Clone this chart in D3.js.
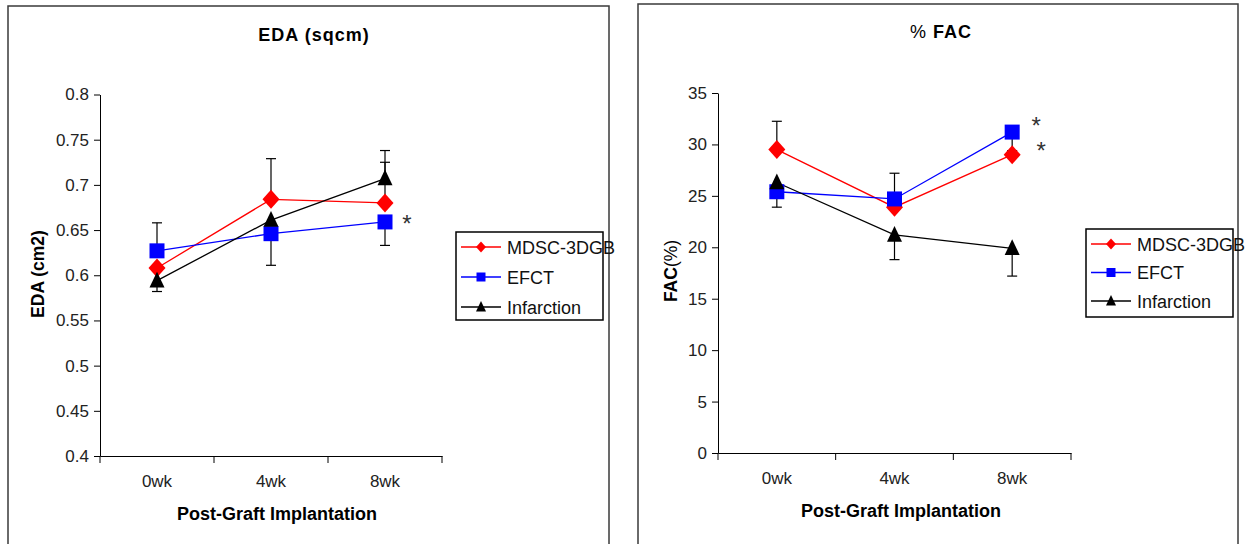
<!DOCTYPE html>
<html>
<head>
<meta charset="utf-8">
<script src="https://cdn.jsdelivr.net/npm/d3@7"></script>
<style>
  body { margin: 0; background: #fff; }
  svg { display: block; font-family: "Liberation Sans", Arial, sans-serif; }
</style>
</head>
<body>
<div id="chart"></div>
<script>
// data
var weeks = ['0wk', '4wk', '8wk'];
var seriesNames = ['MDSC-3DGB', 'EFCT', 'Infarction'];

// EDA (cm2)
var edaMdsc = [0.608, 0.684, 0.680];
var edaEfct = [0.627, 0.646, 0.659];
var edaInf = [0.594, 0.661, 0.707];
var edaMdscPlus = [0, 0.045, 0.045], edaMdscMinus = [0, 0, 0];
var edaEfctPlus = [0.031, 0, 0], edaEfctMinus = [0, 0.035, 0.026];
var edaInfPlus = [0, 0, 0.031], edaInfMinus = [0.012, 0, 0];
var edaTicks = [0.4, 0.45, 0.5, 0.55, 0.6, 0.65, 0.7, 0.75, 0.8];

// % FAC
var facMdsc = [29.5, 23.9, 29.0];
var facEfct = [25.4, 24.7, 31.2];
var facInf = [26.3, 21.2, 19.9];
var facMdscPlus = [2.75, 0, 0], facMdscMinus = [0, 0, 0];
var facEfctPlus = [0, 2.5, 0], facEfctMinus = [1.5, 0, 1.8];
var facInfPlus = [0, 0, 0], facInfMinus = [0, 2.4, 2.7];
var facTicks = [0, 5, 10, 15, 20, 25, 30, 35];

var colors = ['#ff0000', '#0000ff', '#000000'];
var shapes = ['diamond', 'square', 'triangle'];

var svg = d3.select('#chart').append('svg')
  .attr('width', 1250)
  .attr('height', 544);

function markerPath(shape, w, h) {
  if (shape == 'diamond') return 'M0,' + (-h) + 'L' + w + ',0L0,' + h + 'L' + (-w) + ',0Z';
  if (shape == 'square') return 'M' + (-w) + ',' + (-w) + 'H' + w + 'V' + w + 'H' + (-w) + 'Z';
  return 'M0,' + (-h) + 'L' + w + ',' + (h * 0.75) + 'L' + (-w) + ',' + (h * 0.75) + 'Z';
}

function drawPanel(cfg) {
  var g = svg.append('g');
  // outer frame
  g.append('rect')
    .attr('x', cfg.frame[0]).attr('y', cfg.frame[1])
    .attr('width', cfg.frame[2]).attr('height', 600)
    .attr('fill', 'none').attr('stroke', '#3a3a3a').attr('stroke-width', 1.5);

  var x = d3.scaleBand().domain(weeks).range([cfg.x0, cfg.x1]).paddingInner(0).paddingOuter(0);
  var y = d3.scaleLinear().domain(cfg.domain).range([cfg.yb, cfg.yt]);
  var cx = function (w) { return x(w) + x.bandwidth() / 2; };

  // y axis
  var ya = g.append('g')
    .attr('transform', 'translate(' + cfg.x0 + ',0)')
    .call(d3.axisLeft(y).tickValues(cfg.ticks).tickSize(6).tickSizeOuter(0).tickPadding(5).tickFormat(function (d) { return String(d); }));
  ya.select('.domain').attr('stroke', '#000');
  ya.selectAll('.tick line').attr('stroke', '#000');
  ya.selectAll('.tick text').attr('font-size', 17).attr('fill', '#222')
    .attr('font-family', '"Liberation Sans", Arial, sans-serif');

  // x axis (labels) + boundary ticks
  var xa = g.append('g')
    .attr('transform', 'translate(0,' + cfg.yb + ')')
    .call(d3.axisBottom(x).tickSize(0).tickSizeOuter(0).tickPadding(19));
  xa.select('.domain').attr('stroke', '#000');
  xa.selectAll('.tick text').attr('font-size', 17).attr('fill', '#222')
    .attr('font-family', '"Liberation Sans", Arial, sans-serif');
  var edges = weeks.map(function (w) { return x(w); }).concat([cfg.x1]);
  g.append('g').selectAll('line').data(edges).enter().append('line')
    .attr('x1', function (d) { return d; }).attr('x2', function (d) { return d; })
    .attr('y1', cfg.yb).attr('y2', cfg.yb + 7)
    .attr('stroke', '#000');

  // title
  var t = g.append('text')
    .attr('x', cfg.titleX).attr('y', cfg.titleY)
    .attr('text-anchor', 'middle')
    .attr('font-size', 18).attr('font-weight', 'bold')
    .attr('letter-spacing', 1);
  cfg.title.forEach(function (p) {
    t.append('tspan').attr('font-weight', p[1] ? 'bold' : 'normal').text(p[0]);
  });

  // axis titles
  g.append('text')
    .attr('x', cfg.xtX).attr('y', cfg.xtY)
    .attr('text-anchor', 'middle')
    .attr('font-size', 18).attr('font-weight', 'bold')
    .text('Post-Graft Implantation');
  var yt = g.append('text')
    .attr('transform', 'translate(' + cfg.ytX + ',' + cfg.ytY + ') rotate(-90)')
    .attr('text-anchor', 'middle')
    .attr('font-size', 17.5).attr('font-weight', 'bold');
  cfg.ytitle.forEach(function (p) {
    yt.append('tspan').attr('font-weight', p[1] ? 'bold' : 'normal').text(p[0]);
  });

  // error bars
  cfg.series.forEach(function (s, si) {
    var eg = g.append('g');
    weeks.forEach(function (w, i) {
      [[s.plus[i], 1], [s.minus[i], -1]].forEach(function (e) {
        if (!e[0]) return;
        var end = y(s.values[i] + e[1] * e[0]);
        eg.append('line').attr('x1', cx(w)).attr('x2', cx(w))
          .attr('y1', y(s.values[i])).attr('y2', end).attr('stroke', '#000').attr('stroke-width', 1.2);
        eg.append('line').attr('x1', cx(w) - 5).attr('x2', cx(w) + 5)
          .attr('y1', end).attr('y2', end).attr('stroke', '#000').attr('stroke-width', 1.2);
      });
    });
  });

  // lines
  var line = d3.line().x(function (d, i) { return cx(weeks[i]); }).y(function (d) { return y(d); });
  cfg.series.forEach(function (s, si) {
    g.append('path').datum(s.values)
      .attr('d', line).attr('fill', 'none')
      .attr('stroke', colors[si]).attr('stroke-width', 1.3);
  });

  // markers
  cfg.series.forEach(function (s, si) {
    g.append('g').selectAll('path').data(s.values).enter().append('path')
      .attr('transform', function (d, i) { return 'translate(' + cx(weeks[i]) + ',' + y(d) + ')'; })
      .attr('d', shapes[si] == 'diamond' ? markerPath('diamond', 8.5, 9.5) :
                 shapes[si] == 'square' ? markerPath('square', 7.5) : markerPath('triangle', 7.5, 9))
      .attr('fill', colors[si]);
  });

  // significance asterisks
  cfg.stars.forEach(function (st) {
    var s = cfg.series[st[0]];
    g.append('text')
      .attr('x', cx(weeks[2]) + st[1])
      .attr('y', y(s.values[2]) + st[2] + 14)
      .attr('text-anchor', 'middle')
      .attr('font-size', 24).attr('fill', '#333')
      .text('*');
  });

  // legend
  var lg = g.append('g');
  lg.append('rect')
    .attr('x', cfg.leg[0]).attr('y', cfg.leg[1])
    .attr('width', 147).attr('height', 88)
    .attr('fill', '#fff').attr('stroke', '#000').attr('stroke-width', 1.5);
  seriesNames.forEach(function (n, i) {
    var ry = cfg.leg[1] + 15 + i * cfg.legStep;
    var lx = cfg.leg[0] + 5;
    lg.append('line').attr('x1', lx).attr('x2', lx + 40).attr('y1', ry).attr('y2', ry)
      .attr('stroke', colors[i]).attr('stroke-width', 1.3);
    lg.append('path')
      .attr('transform', 'translate(' + (lx + 20) + ',' + ry + ')')
      .attr('d', shapes[i] == 'diamond' ? markerPath('diamond', 5, 5.5) :
                 shapes[i] == 'square' ? markerPath('square', 4.5) : markerPath('triangle', 5, 6))
      .attr('fill', colors[i]);
    lg.append('text').attr('x', lx + 46).attr('y', ry + 6.5)
      .attr('font-size', 18).attr('fill', '#111')
      .text(n);
  });
}

drawPanel({
  frame: [8, 6, 601],
  x0: 100, x1: 442, yt: 94.5, yb: 456,
  domain: [0.4, 0.8], ticks: edaTicks,
  title: [['EDA (sqcm)', true]], titleX: 314, titleY: 41,
  xtX: 277, xtY: 520,
  ytitle: [['EDA (cm2)', true]], ytX: 44, ytY: 274,
  series: [
    {values: edaMdsc, plus: edaMdscPlus, minus: edaMdscMinus},
    {values: edaEfct, plus: edaEfctPlus, minus: edaEfctMinus},
    {values: edaInf, plus: edaInfPlus, minus: edaInfMinus}
  ],
  stars: [[1, 22, -4]],
  leg: [456, 232], legStep: 30
});

drawPanel({
  frame: [638, 4, 600],
  x0: 718, x1: 1071, yt: 93, yb: 453,
  domain: [0, 35], ticks: facTicks,
  title: [['% ', false], ['FAC', true]], titleX: 941, titleY: 38,
  xtX: 901, xtY: 517,
  ytitle: [['FAC', true], ['(%)', false]], ytX: 677, ytY: 271,
  series: [
    {values: facMdsc, plus: facMdscPlus, minus: facMdscMinus},
    {values: facEfct, plus: facEfctPlus, minus: facEfctMinus},
    {values: facInf, plus: facInfPlus, minus: facInfMinus}
  ],
  stars: [[1, 24, -12], [0, 29, -10]],
  leg: [1086, 229], legStep: 28.5
});
</script>
</body>
</html>
